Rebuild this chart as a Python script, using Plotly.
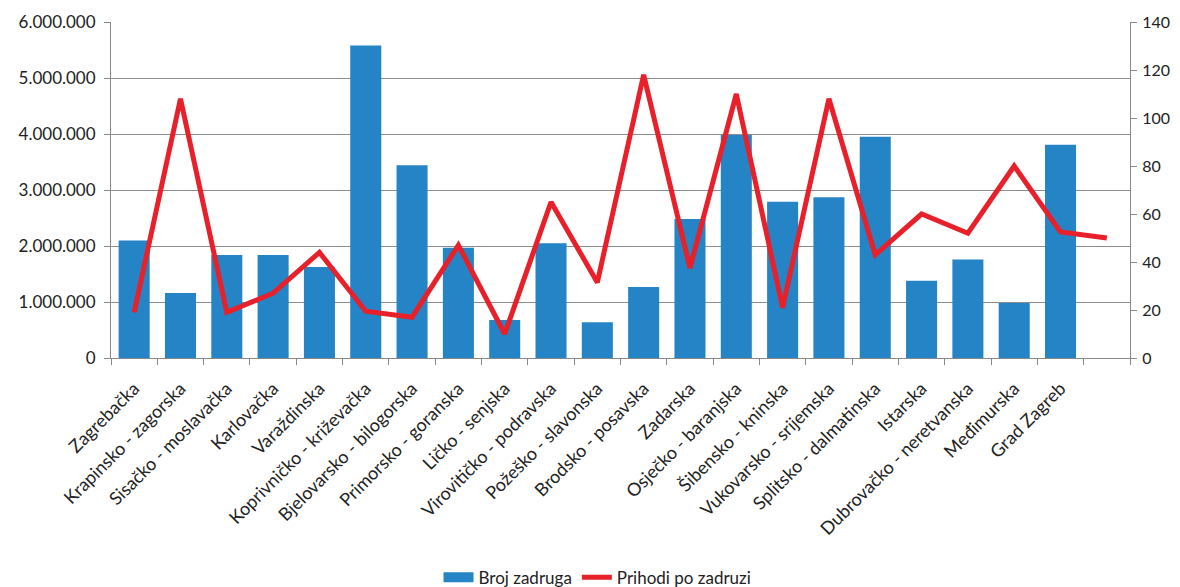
import plotly.graph_objects as go

categories = ["Zagrebačka", "Krapinsko - zagorska", "Sisačko - moslavačka", "Karlovačka",
              "Varaždinska", "Koprivničko - križevačka", "Bjelovarsko - bilogorska",
              "Primorsko - goranska", "Ličko - senjska", "Virovitičko - podravska",
              "Požeško - slavonska", "Brodsko - posavska", "Zadarska", "Osječko - baranjska",
              "Šibensko - kninska", "Vukovarsko - srijemska", "Splitsko - dalmatinska",
              "Istarska", "Dubrovačko - neretvanska", "Međimurska", "Grad Zagreb", " "]

broj_zadruga = [2100000, 1160000, 1840000, 1840000, 1625000, 5580000, 3440000,
                1970000, 680000, 2050000, 640000, 1270000, 2480000, 3980000,
                2790000, 2870000, 3950000, 1380000, 1760000, 980000, 3810000]

prihodi_po_zadruzi = [19, 108, 19, 27, 44, 19.5, 17, 47, 10, 65, 31.5, 118, 37.5,
                      110, 21, 108, 43, 60, 52, 80, 52.5, 50]

FONT = "Lato, 'Open Sans', sans-serif"
BAR_COLOR = "#2484C6"
LINE_COLOR = "#E8202A"

fig = go.Figure()
fig.add_trace(go.Bar(x=categories[:len(broj_zadruga)], y=broj_zadruga, name="Broj zadruga",
                     marker=dict(color=BAR_COLOR, line=dict(width=0)), showlegend=False))
# legend proxy giving a wide flat rectangle like the original legend key
fig.add_trace(go.Scatter(x=[categories[0]], y=[None], name="Broj zadruga", mode="lines",
                         line=dict(color=BAR_COLOR, width=10), hoverinfo="skip"))
fig.add_trace(go.Scatter(x=categories, y=prihodi_po_zadruzi, name="Prihodi po zadruzi",
                         mode="lines", line=dict(color=LINE_COLOR, width=5), yaxis="y2"))

fig.update_layout(
    width=1172, height=579,
    margin=dict(l=103, r=50, t=14, b=229, autoexpand=False),
    paper_bgcolor="white", plot_bgcolor="white",
    separators=",.",
    bargap=0.33,
    font=dict(family=FONT, size=17, color="#222222"),
    xaxis=dict(type="category", categoryorder="array", categoryarray=categories,
               range=[-0.5, len(categories) - 0.5],
               tickangle=-45, tickson="boundaries", ticks="outside", ticklen=6,
               tickcolor="#888888", showline=True, linecolor="#888888", linewidth=1,
               showgrid=False, tickfont=dict(size=18), ticklabelstandoff=12,
               automargin=False),
    yaxis=dict(range=[0, 6000000], dtick=1000000, tickformat=",d", showline=True,
               linecolor="#888888", ticks="outside", tickcolor="#888888", ticklen=6,
               showgrid=True, gridcolor="#8c8c8c", gridwidth=1, zeroline=False,
               tickfont=dict(size=17), ticklabelstandoff=5, automargin=False),
    yaxis2=dict(range=[0, 140], dtick=20, overlaying="y", side="right", showline=True,
                linecolor="#888888", ticks="outside", tickcolor="#888888", ticklen=6,
                showgrid=False, zeroline=False, tickfont=dict(size=16),
                ticklabelstandoff=2, automargin=False),
    legend=dict(orientation="h", xref="container", yref="container",
                x=0.503, xanchor="center", y=0.016, yanchor="middle",
                font=dict(size=17), bgcolor="rgba(0,0,0,0)"),
)

fig.write_html("out.html")
